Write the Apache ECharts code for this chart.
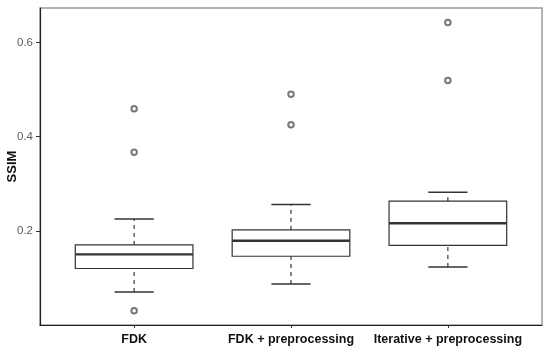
<!DOCTYPE html>
<html>
<head>
<meta charset="utf-8">
<script src="https://cdn.jsdelivr.net/npm/echarts@6/dist/echarts.min.js"></script>
<style>html,body{margin:0;padding:0;background:#fff;}#c{width:550px;height:353px;}</style>
</head>
<body>
<div id="c"></div>
<script>
const categories = ['FDK', 'FDK + preprocessing', 'Iterative + preprocessing'];
const whiskerLow = [0.070, 0.087, 0.123];
const q1 = [0.120, 0.146, 0.169];
const median = [0.150, 0.179, 0.216];
const q3 = [0.170, 0.202, 0.263];
const whiskerHigh = [0.225, 0.256, 0.282];
const outliers = [[0.030, 0.367, 0.459], [0.425, 0.490], [0.519, 0.642]];
const yTicks = [0.2, 0.4, 0.6];
const yMin = 0, yMax = 0.673;

const xPos = categories.map((c, i) => i + 1);
const boxData = categories.map((c, i) => [xPos[i], whiskerLow[i], q1[i], median[i], q3[i], whiskerHigh[i]]);
const outData = [];
outliers.forEach((arr, i) => arr.forEach(v => outData.push([xPos[i], v])));

const FONT = '"Liberation Sans", Arial, sans-serif';
const LINE = '#333333';

const chart = echarts.init(document.getElementById('c'), null, {renderer: 'canvas'});
chart.setOption({
  animation: false,
  grid: {left: 40, right: 8, top: 8, bottom: 28, containLabel: false, outerBoundsMode: 'none', show: true, borderColor: '#9a9a9a', borderWidth: 1.5, backgroundColor: 'transparent'},
  xAxis: {
    type: 'value', min: 0.4, max: 3.6,
    splitLine: {show: false},
    axisLine: {show: true, onZero: false, lineStyle: {color: '#222', width: 1.2}},
    axisTick: {show: true, customValues: xPos, length: 3, lineStyle: {color: '#333'}},
    axisLabel: {customValues: xPos, formatter: v => categories[Math.round(v) - 1] || '', color: '#111', fontFamily: FONT, fontSize: 12.5, fontWeight: 'bold', margin: 8}
  },
  yAxis: {
    type: 'value', min: yMin, max: yMax,
    name: 'SSIM', nameLocation: 'middle', nameGap: 21, nameRotate: 90, nameMoveOverlap: false,
    nameTextStyle: {color: '#111', fontFamily: FONT, fontSize: 13, fontWeight: 'bold'},
    splitLine: {show: false},
    axisLine: {show: true, onZero: false, lineStyle: {color: '#222', width: 1.2}},
    axisTick: {show: true, customValues: yTicks, length: 4, lineStyle: {color: '#333'}},
    axisLabel: {customValues: yTicks, formatter: v => v.toFixed(1), color: '#5a5a5a', fontFamily: FONT, fontSize: 11.5, margin: 7}
  },
  series: [
    {
      type: 'custom',
      data: boxData,
      encode: {x: 0, y: [1, 2, 3, 4, 5]},
      renderItem: function (params, api) {
        const x = api.value(0);
        const lo = api.coord([x, api.value(1)]);
        const b1 = api.coord([x, api.value(2)]);
        const md = api.coord([x, api.value(3)]);
        const b3 = api.coord([x, api.value(4)]);
        const hi = api.coord([x, api.value(5)]);
        const bw = api.size([0.75, 0])[0];
        const cw = api.size([0.25, 0])[0];
        const cx = lo[0];
        const st = {stroke: LINE, lineWidth: 1.2, fill: null};
        const dash = {stroke: LINE, lineWidth: 1.2, lineDash: [4, 4]};
        return {
          type: 'group',
          children: [
            {type: 'line', shape: {x1: cx, y1: lo[1], x2: cx, y2: b1[1]}, style: dash},
            {type: 'line', shape: {x1: cx, y1: b3[1], x2: cx, y2: hi[1]}, style: dash},
            {type: 'line', shape: {x1: cx - cw / 2, y1: lo[1], x2: cx + cw / 2, y2: lo[1]}, style: {stroke: LINE, lineWidth: 1.5}},
            {type: 'line', shape: {x1: cx - cw / 2, y1: hi[1], x2: cx + cw / 2, y2: hi[1]}, style: {stroke: LINE, lineWidth: 1.5}},
            {type: 'rect', shape: {x: cx - bw / 2, y: b3[1], width: bw, height: b1[1] - b3[1]}, style: st},
            {type: 'line', shape: {x1: cx - bw / 2, y1: md[1], x2: cx + bw / 2, y2: md[1]}, style: {stroke: LINE, lineWidth: 2.4}}
          ]
        };
      }
    },
    {
      type: 'scatter',
      data: outData,
      symbol: 'emptyCircle',
      symbolSize: 5.5,
      itemStyle: {color: '#555', borderColor: '#555', borderWidth: 0.9}
    }
  ]
});
</script>
</body>
</html>
